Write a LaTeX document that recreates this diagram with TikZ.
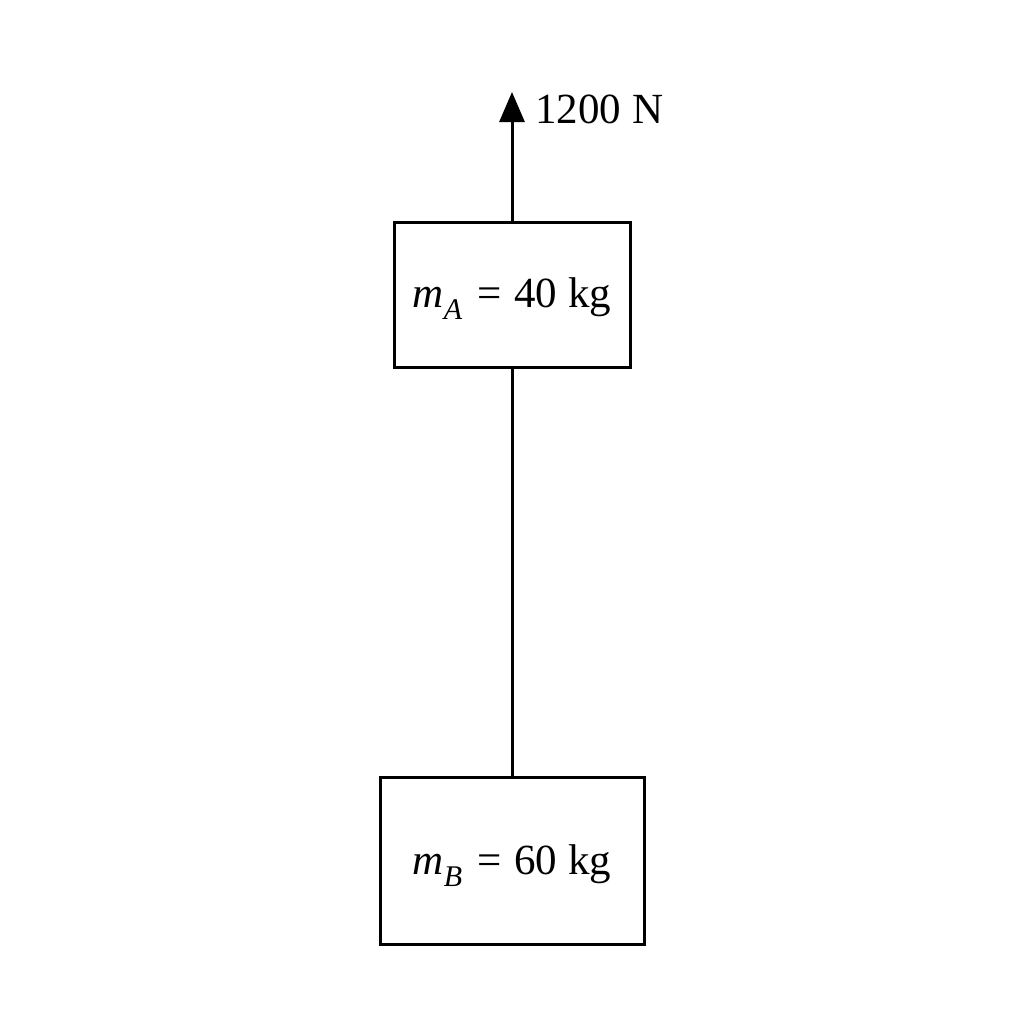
\documentclass[tikz,border=0pt]{standalone}
\usepackage{fontspec}
\setmainfont{Liberation Serif}
\usetikzlibrary{arrows.meta}
\newcommand{\subsc}[1]{\raisebox{-0.28em}{\fontsize{15}{15}\selectfont\itshape #1}}
\begin{document}
\begin{tikzpicture}[x=0.5pt,y=-0.5pt,
  mass/.style={draw,line width=1.5pt,minimum width=#1,inner sep=0pt},
  lbl/.style={font=\fontsize{21.5}{25}\selectfont,inner sep=0pt},
  rope/.style={line width=1.5pt}]
\useasboundingbox (0,0) rectangle (1024,1024);
\node[mass=118pt,minimum height=72.5pt] (A) at (512,294.5) {};
\node[mass=132pt,minimum height=83.5pt] (B) at (512,860.5) {};
\node[lbl,anchor=base] (LA) at (512,307) {{\itshape m}\subsc{A}\hspace{0.1em} = \hspace{0.05em}40 kg};
\node[lbl,anchor=base] (LB) at (512,874) {{\itshape m}\subsc{B}\hspace{0.1em} = \hspace{0.05em}60 kg};
\coordinate (tip) at (512,92);
\draw[rope] (A.south) -- (B.north);
\draw[rope,-{Triangle[length=15pt,width=12.5pt]}] (A.north) -- (tip);
\node[lbl,anchor=base west] (F) at (535,123) {1200 N};
\end{tikzpicture}
\end{document}
